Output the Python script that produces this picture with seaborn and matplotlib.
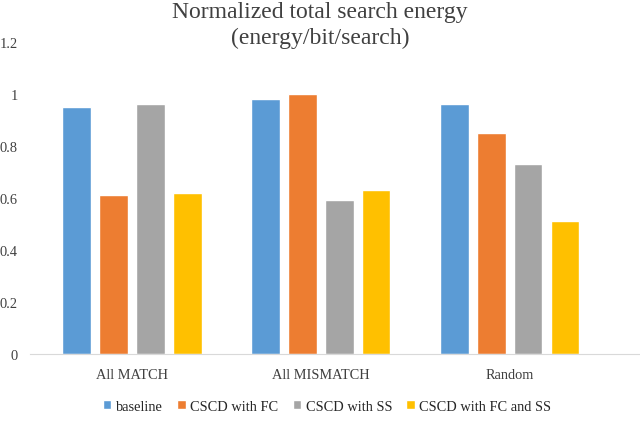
import pandas as pd
import matplotlib
matplotlib.use("Agg")
import matplotlib.pyplot as plt
import seaborn as sns

categories = ["All MATCH", "All MISMATCH", "Random"]
series = ["baseline", "CSCD with FC", "CSCD with SS", "CSCD with FC and SS"]
baseline = [0.95, 0.98, 0.96]
cscd_fc = [0.61, 1.00, 0.85]
cscd_ss = [0.96, 0.59, 0.73]
cscd_fc_ss = [0.62, 0.63, 0.51]
colors = ["#5b9bd5", "#ed7d31", "#a5a5a5", "#ffc000"]

rows = []
for name, vals in zip(series, [baseline, cscd_fc, cscd_ss, cscd_fc_ss]):
    for cat, v in zip(categories, vals):
        rows.append({"category": cat, "series": name, "value": v})
df = pd.DataFrame(rows)

sns.set_style("white")
plt.rcParams['font.family'] = ['Liberation Serif', 'DejaVu Serif']

fig = plt.figure(figsize=(6.4, 4.35), dpi=100)
ax = fig.add_axes([30 / 640, 0.184, 610 / 640, 0.718])
sns.barplot(data=df, x="category", y="value", hue="series", palette=colors,
            width=0.78, gap=0.22, ax=ax, saturation=1, legend=True)

ax.set_ylim(0, 1.2)
ax.set_xlim(-0.54, 2.69)
ax.set_yticks([0, 0.2, 0.4, 0.6, 0.8, 1.0, 1.2])
ax.set_yticklabels(["0", "0.2", "0.4", "0.6", "0.8", "1", "1.2"])
ax.tick_params(axis="both", labelsize=10.4, length=0, colors="#404040")
ax.tick_params(axis="y", pad=9)
ax.tick_params(axis="x", pad=10)
ax.set_xlabel("")
ax.set_ylabel("")
for s in ["top", "right", "left"]:
    ax.spines[s].set_visible(False)
ax.spines["bottom"].set_color("#d9d9d9")

fig.suptitle("Normalized total search energy\n(energy/bit/search)", fontsize=17,
             y=0.995, color="#404040", linespacing=1.3)

handles, labels = ax.get_legend_handles_labels()
ax.get_legend().remove()
fig.legend(handles, labels, loc="center", bbox_to_anchor=(0.511, 0.064), ncol=4,
           frameon=False, fontsize=10.4, handlelength=0.6, handleheight=0.6,
           handletextpad=0.3, columnspacing=1.0)

plt.savefig("out.png", dpi=100)
plt.close()
